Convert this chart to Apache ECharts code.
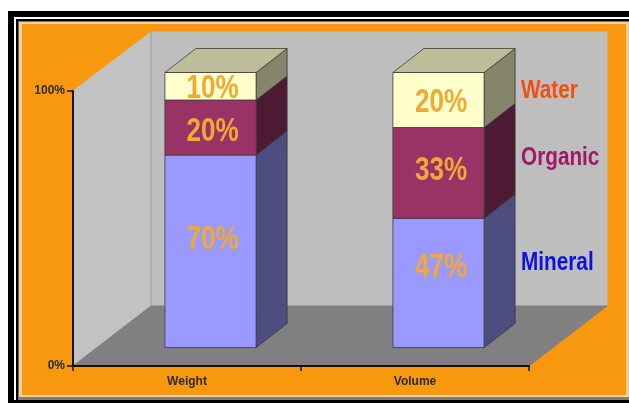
<!DOCTYPE html>
<html>
<head>
<meta charset="utf-8">
<style>html,body{margin:0;padding:0;background:#fff}#c{width:629px;height:403px}</style>
<script src="https://cdn.jsdelivr.net/npm/echarts@6/dist/echarts.min.js"></script>
</head>
<body>
<div id="c"></div>
<script>
const categories = ['Weight', 'Volume'];
const mineral = [70, 47];
const organic = [20, 33];
const water = [10, 20];
const yTicks = [0, 100];

/* layout and styling, kept apart from the data */
const DEPTH = {x: 78, yTop: -59, yBottom: -60};
const BAR = {shift: 23.5, lift: -18.5, widthFrac: 0.4, dx: 31, dy: -24};
const styles = {
  Mineral: {front: '#9999FF', side: '#4D4D80', text: '#1010E0', nudge: [[2, -11], [2.5, -14.5]], legendY: 263},
  Organic: {front: '#993366', side: '#4D1A33', text: '#A0186A', nudge: [[2, 4.5], [2.5, -2]], legendY: 158},
  Water: {front: '#FFFFCC', side: '#85856C', top: '#BDBD99', text: '#F0500F', nudge: [[2, 3], [2.5, 2.5]], legendY: 91}
};
const LABEL_FONT = 'bold 33px "Liberation Sans",sans-serif';
const LABEL_SCALE_X = 0.79;
const LEGEND_FONT = 'bold 25px "Liberation Sans",sans-serif';
const LEGEND_SCALE_X = 0.83;

function wallItem(params, api) {
  const r = params.coordSys;
  const x0 = r.x, y0 = r.y, x1 = r.x + r.width, y1 = r.y + r.height;
  const dx = DEPTH.x, dt = DEPTH.yTop, db = DEPTH.yBottom;
  const poly = (points, fill, stroke) => ({type: 'polygon', shape: {points}, style: {fill, stroke: stroke || fill, lineWidth: 1}});
  return {type: 'group', children: [
    poly([[x0 + dx, y0 + dt], [x1 + dx, y0 + dt], [x1 + dx, y1 + db], [x0 + dx, y1 + db]], '#BEBEBE'),
    poly([[x0, y0], [x0 + dx, y0 + dt], [x0 + dx, y1 + db], [x0, y1]], '#C2C2C2'),
    poly([[x0, y1], [x0 + dx, y1 + db], [x1 + dx, y1 + db], [x1, y1]], '#808080'),
    {type: 'line', shape: {x1: x0 + dx, y1: y0 + dt, x2: x0 + dx, y2: y1 + db}, style: {stroke: '#A6A6A6', lineWidth: 1.5}}
  ]};
}

function barRenderer(name, isTop) {
  const st = styles[name];
  return function (params, api) {
    const idx = api.value(0);
    const topP = api.coord([idx, api.value(2)]);
    const baseP = api.coord([idx, api.value(1)]);
    const w = api.size([1, 0])[0] * BAR.widthFrac;
    const l = topP[0] + BAR.shift - w / 2, r = l + w;
    const t = topP[1] + BAR.lift, b = baseP[1] + BAR.lift;
    const edge = '#3A3A3A';
    const shape = (points, fill) => ({type: 'polygon', shape: {points}, style: {fill, stroke: edge, lineWidth: 0.8}});
    const kids = [
      shape([[r, t], [r + BAR.dx, t + BAR.dy], [r + BAR.dx, b + BAR.dy], [r, b]], st.side),
      shape([[l, t], [r, t], [r, b], [l, b]], st.front)
    ];
    if (isTop) kids.push(shape([[l, t], [l + BAR.dx, t + BAR.dy], [r + BAR.dx, t + BAR.dy], [r, t]], st.top));
    const nudge = st.nudge[idx];
    kids.push({
      type: 'text', z2: 10,
      x: (l + r) / 2 + nudge[0], y: (t + b) / 2 + nudge[1], scaleX: LABEL_SCALE_X,
      style: {
        text: api.value(3) + '%', x: 0, y: 0,
        align: 'center', verticalAlign: 'middle', font: LABEL_FONT, fill: '#F0A935'
      }
    });
    return {type: 'group', children: kids};
  };
}

function barSeries(name, values, below, isTop) {
  return {
    name, type: 'custom', z: 4 + (isTop ? 2 : below.length),
    renderItem: barRenderer(name, isTop),
    encode: {x: 0, y: 2},
    data: values.map((v, i) => {
      const base = below.reduce((s, arr) => s + arr[i], 0);
      return [i, base, base + v, v];
    })
  };
}

const chart = echarts.init(document.getElementById('c'), null, {renderer: 'canvas'});
const frame = (x, y, width, height, fill) => ({type: 'rect', silent: true, z: -1, shape: {x, y, width, height}, style: {fill}});
const legendText = (name) => ({
  type: 'text', silent: true, z: 20, x: 521, y: styles[name].legendY, scaleX: LEGEND_SCALE_X,
  style: {text: name, x: 0, y: 0, verticalAlign: 'middle', font: LEGEND_FONT, fill: styles[name].text}
});

chart.setOption({
  animation: false,
  backgroundColor: '#FFFFFF',
  graphic: [
    frame(8, 11, 621, 392, '#000000'),
    frame(14, 17, 615, 383, '#FFFFFF'),
    frame(16, 19, 613, 384, '#000000'),
    frame(18, 21, 611, 379, '#7F6C52'),
    frame(19, 22, 610, 373, '#EFD3A2'),
    frame(22, 24, 604, 371, '#F7980F'),
    frame(19, 395, 610, 2, '#E8D3B0'),
    frame(19, 397, 610, 3, '#8A7B66'),
    frame(626, 22, 3, 373, '#F5CE94'),
    legendText('Water'), legendText('Organic'), legendText('Mineral')
  ],
  grid: {left: 73, top: 91, width: 456, height: 275, containLabel: false},
  xAxis: {
    type: 'category', data: categories, z: 8,
    axisLine: {lineStyle: {color: '#111', width: 2}},
    axisTick: {show: true, alignWithLabel: false, length: 5, lineStyle: {color: '#111', width: 1.5}},
    axisLabel: {color: '#2A2A2A', fontFamily: '"Liberation Sans"', fontWeight: 'bold', fontSize: 12, margin: 10}
  },
  yAxis: {
    type: 'value', min: yTicks[0], max: yTicks[1], interval: yTicks[1], z: 8,
    splitLine: {show: false},
    axisLine: {show: true, lineStyle: {color: '#111', width: 2}},
    axisTick: {show: true, length: 6, lineStyle: {color: '#111', width: 1.5}},
    axisLabel: {color: '#2A2A2A', fontFamily: '"Liberation Sans"', fontWeight: 'bold', fontSize: 12, margin: 8, formatter: '{value}%'}
  },
  series: [
    {type: 'custom', z: 1, silent: true, renderItem: wallItem, data: [[0, 0]], encode: {x: 0, y: 1}, clip: false},
    barSeries('Mineral', mineral, [], false),
    barSeries('Organic', organic, [mineral], false),
    barSeries('Water', water, [mineral, organic], true)
  ]
});
</script>
</body>
</html>
